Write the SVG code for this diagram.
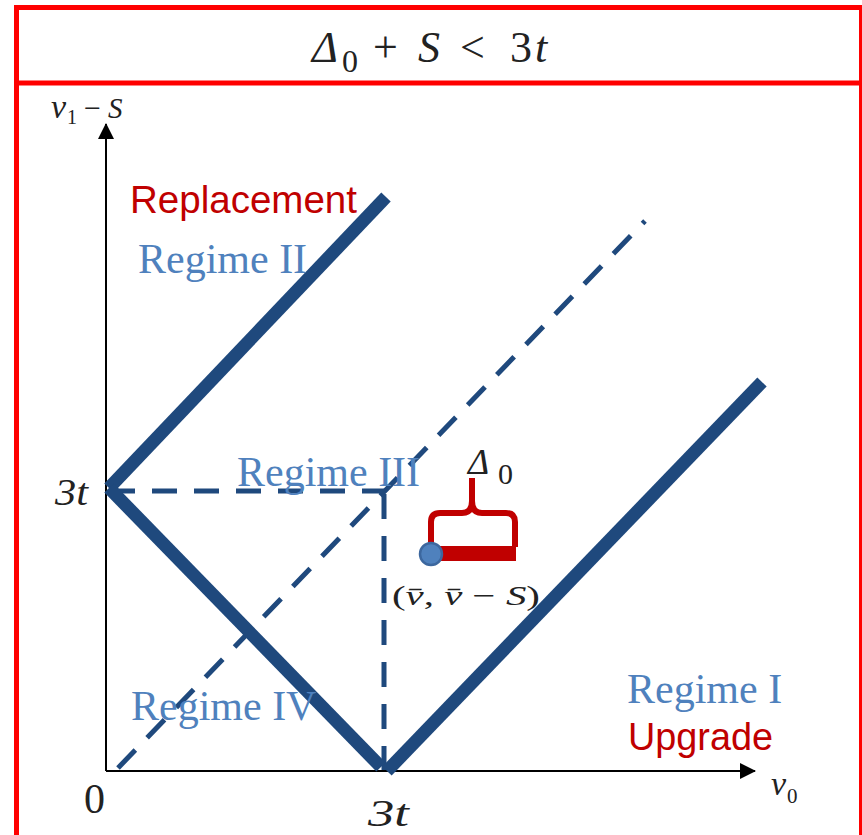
<svg xmlns="http://www.w3.org/2000/svg" width="862" height="835" viewBox="0 0 862 835">
  <defs>
    <style>
      .frame { fill: none; stroke: #FF0000; stroke-width: 5; }
      .axis { stroke: #000; stroke-width: 2; fill: none; }
      .thick { stroke: #1F497D; stroke-width: 13; fill: none; stroke-linecap: butt; }
      .dash { stroke: #1F497D; stroke-width: 5; fill: none; stroke-dasharray: 25 17; }
      .regime { font-family: "Liberation Serif", serif; font-size: 42px; fill: #4F81BD; }
      .red { font-family: "Liberation Sans", sans-serif; font-size: 38px; fill: #C00000; }
      .math { font-family: "Liberation Serif", serif; fill: #222; }
      .it { font-style: italic; }
    </style>
    <marker id="arr" viewBox="0 0 16 16" refX="15" refY="8" markerWidth="16" markerHeight="16" markerUnits="userSpaceOnUse" orient="auto">
      <path d="M0,0 L16,8 L0,16 Z" fill="#000"/>
    </marker>
  </defs>
  <rect width="862" height="835" fill="#fff"/>

  <g id="frame">
    <rect class="frame" x="16.5" y="7.5" width="845" height="840"/>
    <line class="frame" x1="16.5" y1="83" x2="862" y2="83"/>
  </g>

  <g id="title">
    <text class="math" font-size="44" y="62"><tspan class="it" x="312">Δ</tspan><tspan x="342" font-size="32" dy="10">0</tspan><tspan x="373" dy="-10">+</tspan><tspan class="it" x="418">S</tspan><tspan x="460">&lt;</tspan><tspan x="510">3</tspan><tspan class="it" x="535">t</tspan></text>
  </g>

  <g id="connectors">
    <line class="axis" x1="106" y1="771" x2="106" y2="124" marker-end="url(#arr)"/>
    <line class="axis" x1="106" y1="771" x2="755" y2="771" marker-end="url(#arr)"/>
    <line class="dash" x1="118" y1="768" x2="645" y2="221"/>
    <line class="dash" x1="110" y1="491" x2="385" y2="491"/>
    <line class="dash" x1="384" y1="494" x2="384" y2="770"/>
    <line class="thick" x1="109" y1="488" x2="386" y2="197"/>
    <line class="thick" x1="109" y1="488" x2="381" y2="767"/>
    <line class="thick" x1="387" y1="771" x2="762" y2="382"/>
  </g>

  <g id="axis-labels">
    <text class="math" y="118"><tspan class="it" x="51" font-size="34">v</tspan><tspan x="67" font-size="20" dy="6">1</tspan><tspan x="84" font-size="30" dy="-6">−</tspan><tspan class="it" x="108" font-size="29">S</tspan></text>
    <text class="math it" x="55" y="505" font-size="38" textLength="33" lengthAdjust="spacingAndGlyphs">3t</text>
    <text class="math" x="84" y="813" font-size="42">0</text>
    <text class="math it" x="368" y="826" font-size="38" textLength="41" lengthAdjust="spacingAndGlyphs">3t</text>
    <text class="math" y="795"><tspan class="it" x="771" font-size="34">v</tspan><tspan x="787" font-size="21" dy="8">0</tspan></text>
  </g>

  <g id="regime-II">
    <text class="red" x="130" y="213" textLength="227" lengthAdjust="spacingAndGlyphs">Replacement</text>
    <text class="regime" x="138" y="273">Regime II</text>
  </g>
  <g id="regime-III">
    <text class="regime" x="237" y="486">Regime III</text>
  </g>
  <g id="regime-IV">
    <text class="regime" x="131" y="720">Regime IV</text>
  </g>
  <g id="regime-I">
    <text class="regime" x="627" y="703">Regime I</text>
    <text class="red" x="628" y="750" textLength="145" lengthAdjust="spacingAndGlyphs">Upgrade</text>
  </g>

  <g id="point">
    <rect x="440" y="546" width="76" height="15" fill="#C00000"/>
    <path d="M431,549 V522 Q431,513 440,513 H462 Q472,513 472,501 V478 M472,501 Q472,513 482,513 H506 Q515,513 515,522 V547" fill="none" stroke="#C00000" stroke-width="6"/>
    <circle cx="431" cy="554" r="11" fill="#4F81BD" stroke="#3C679E" stroke-width="2.5"/>
    <text class="math" y="474"><tspan class="it" x="468" font-size="36">Δ</tspan><tspan x="498" font-size="30" dy="10">0</tspan></text>
    <text class="math" x="392" y="605" font-size="28" textLength="148" lengthAdjust="spacingAndGlyphs">(<tspan class="it">v̄</tspan>, <tspan class="it">v̄</tspan> − <tspan class="it">S</tspan>)</text>
  </g>
</svg>
